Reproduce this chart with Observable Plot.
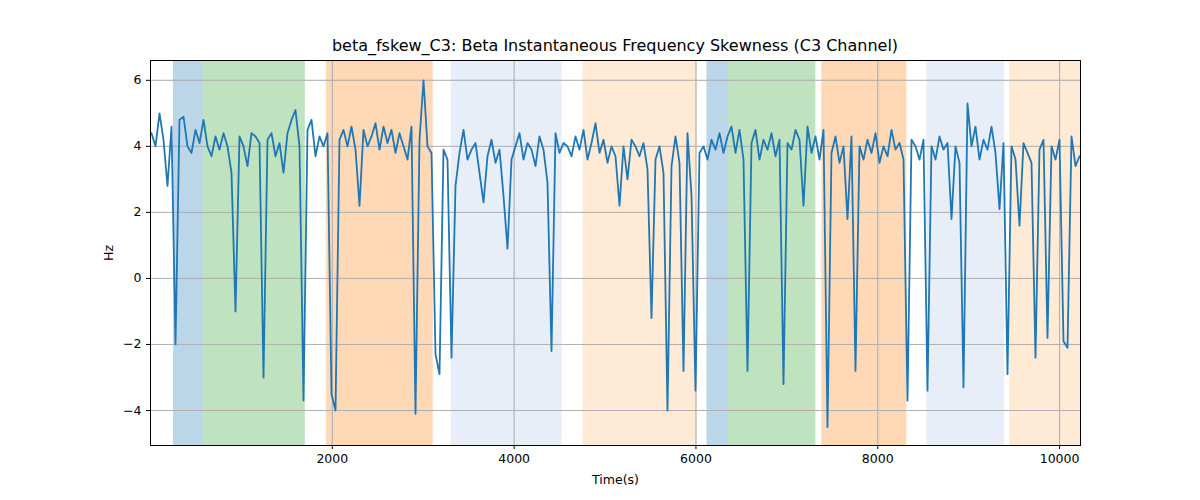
<!DOCTYPE html>
<html><head><meta charset="utf-8">
<script src="https://cdn.jsdelivr.net/npm/d3@7"></script>
<script src="https://cdn.jsdelivr.net/npm/@observablehq/plot@0.6"></script>
<style>body{margin:0;background:#fff;font-family:"DejaVu Sans",sans-serif}
#t{height:60px;line-height:20px;box-sizing:border-box;padding-top:36px;text-align:center;font-size:16px;padding-left:30px}</style>
</head><body><div id="t">beta_fskew_C3: Beta Instantaneous Frequency Skewness (C3 Channel)</div><div id="c"></div>
<script>
const t0 = 11, dt = 44;
const values = [4.4,4.0,5.0,4.2,2.8,4.6,-2.0,4.8,4.9,4.0,3.8,4.5,4.1,4.8,4.0,3.7,4.3,3.9,4.4,4.0,
3.2,-1.0,4.3,4.0,3.4,4.4,4.3,4.1,-3.0,4.2,4.4,3.7,4.1,3.2,4.4,4.8,5.1,4.0,-3.7,4.5,
4.8,3.7,4.3,4.0,4.4,-3.5,-4.0,4.2,4.5,4.0,4.6,3.9,2.2,4.5,4.0,4.3,4.7,3.9,4.6,4.1,
4.5,3.8,4.4,4.0,3.6,4.6,-4.1,4.2,6.0,4.0,3.8,-2.3,-2.9,3.9,3.6,-2.4,2.8,3.8,4.5,3.6,
3.9,4.1,3.2,2.3,3.7,4.2,3.5,3.9,2.5,0.9,3.6,4.0,4.4,3.6,4.1,3.9,3.4,4.3,3.9,2.9,
-2.2,4.4,3.8,4.1,4.0,3.7,4.3,3.9,4.5,3.6,4.1,4.7,3.8,4.2,3.5,4.0,3.7,2.2,4.0,3.0,
4.2,4.0,3.7,4.1,3.3,-1.2,3.6,4.0,3.2,-4.0,3.4,4.3,3.5,-2.8,4.4,2.5,-3.4,3.8,4.0,3.6,
4.2,3.9,4.4,3.8,4.3,4.6,3.8,4.5,3.6,-2.8,4.1,4.5,3.6,4.2,3.9,4.4,3.7,4.2,-3.2,4.1,
3.9,4.5,4.2,2.2,4.6,3.8,4.3,3.6,4.5,-4.5,3.8,4.3,3.5,4.0,1.8,4.3,-2.8,4.0,3.6,4.2,
3.8,4.4,3.5,4.0,3.7,4.5,3.9,4.1,3.6,-3.7,4.2,4.0,3.6,4.2,-3.4,4.0,3.6,4.3,3.9,4.1,
1.8,4.0,3.5,-3.3,5.3,4.0,4.6,3.6,4.2,3.9,4.6,3.8,2.1,4.1,-2.9,4.0,3.6,1.6,4.1,3.8,
3.5,-2.4,3.9,4.2,-1.8,4.0,3.6,4.2,-1.9,-2.1,4.3,3.4,3.7];
const spanStart = [253,582,1934,3308,4758,6121,6363,7385,8539,9451];
const spanEnd   = [582,1703,3110,4528,6011,6363,7319,8319,9396,10230];
const spanColor = ["#1f77b4","#2ca02c","#ff7f0e","#aec7e8","#ffbb78","#1f77b4","#2ca02c","#ff7f0e","#aec7e8","#ffbb78"];
const spanAlpha = [0.3,0.3,0.3,0.3,0.3,0.3,0.3,0.3,0.3,0.3];
const spans = spanStart.map((s,i)=>({s,e:spanEnd[i],c:spanColor[i],a:spanAlpha[i]}));
const data = values.map((v,i)=>({t:t0+i*dt,v}));
const p = Plot.plot({
  width:1200,height:440,marginTop:0,marginBottom:55,marginLeft:150,marginRight:120,
  style:{fontSize:"12.5px",fontFamily:"DejaVu Sans",overflow:"visible"},
  x:{domain:[0,10230],ticks:[2000,4000,6000,8000,10000],tickFormat:d=>String(d),label:"Time(s)",labelAnchor:"center",labelArrow:"none",labelOffset:38,grid:true,tickSize:4},
  y:{domain:[-5.06,6.6],ticks:[-4,-2,0,2,4,6],tickFormat:d=>d<0?"−"+Math.abs(d):String(d),label:"Hz",labelAnchor:"center",labelArrow:"none",labelOffset:46,grid:true,tickSize:4},
  marks:[
    Plot.rectX(spans,{x1:"s",x2:"e",y1:-5.06,y2:6.6,fill:d=>d.c,fillOpacity:d=>d.a}),
    Plot.gridX([2000,4000,6000,8000,10000],{stroke:"#b0b0b0",strokeOpacity:1}),
    Plot.gridY([-4,-2,0,2,4,6],{stroke:"#b0b0b0",strokeOpacity:1}),
    Plot.line(data,{x:"t",y:"v",stroke:"#1f77b4",strokeWidth:1.8}),
    Plot.frame({stroke:"black"})
  ]
});
document.getElementById("c").appendChild(p);
</script></body></html>
